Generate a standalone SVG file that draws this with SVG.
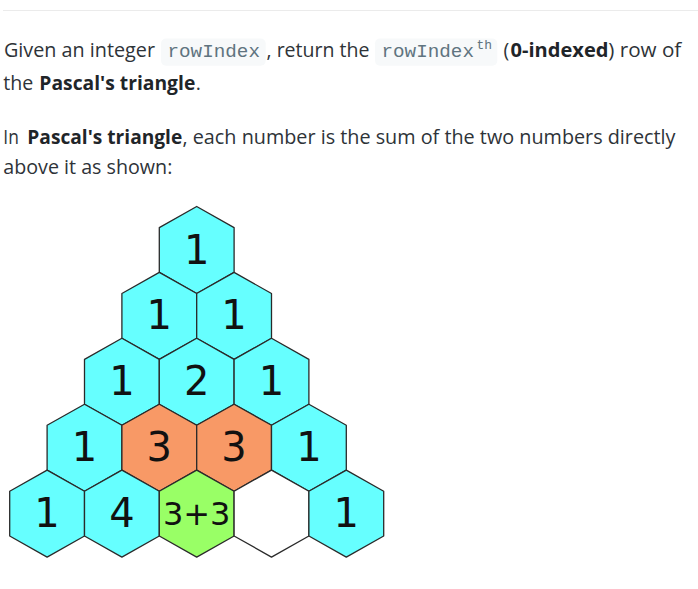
<svg xmlns="http://www.w3.org/2000/svg" xmlns:xlink="http://www.w3.org/1999/xlink" width="698" height="589" viewBox="0 0 698 589">
<style>
.t{font-family:"Open Sans","Noto Sans","Liberation Sans",sans-serif;font-size:19.5px;fill:#2e3338}
.b{font-weight:bold;fill:#1f2529}
.code{font-family:"Liberation Mono","DejaVu Sans Mono",monospace;font-size:17.5px;fill:#5f7480}
.sup{font-family:"Liberation Mono","DejaVu Sans Mono",monospace;font-size:12px;fill:#5f7480}
.cbox{fill:#f7f9fa}
.hex{stroke:#2a2a2a;stroke-width:1.3;stroke-linejoin:round}
.cyan{fill:#66ffff}
.orange{fill:#f89966}
.green{fill:#99ff66}
.white{fill:#ffffff}
.num{font-family:"DejaVu Sans","Liberation Sans",sans-serif;font-size:40px;fill:#111;text-anchor:middle}
.small{font-size:32px}
</style>
<defs>
<polygon id="hx" points="0,-43.5 37.4,-22.4 37.4,22.4 0,43.5 -37.4,22.4 -37.4,-22.4"/>
</defs>
<rect width="698" height="589" fill="#ffffff"/>
<line x1="3" y1="10.5" x2="698" y2="10.5" stroke="#ebebeb" stroke-width="1"/>

<g id="text">
<text class="t" x="4" y="57" textLength="151" lengthAdjust="spacingAndGlyphs">Given an integer</text>
<rect class="cbox" x="161" y="38.5" width="104.7" height="27.2" rx="5"/>
<text class="code" x="167.5" y="56.5" textLength="92.5" lengthAdjust="spacingAndGlyphs">rowIndex</text>
<text class="t" x="266.5" y="57" textLength="103" lengthAdjust="spacingAndGlyphs">, return the</text>
<rect class="cbox" x="375" y="38.5" width="122.3" height="27.2" rx="5"/>
<text class="code" x="381.5" y="56.5" textLength="92.5" lengthAdjust="spacingAndGlyphs">rowIndex</text>
<text class="sup" x="476.5" y="48.5" textLength="15.5" lengthAdjust="spacingAndGlyphs">th</text>
<text class="t" x="503.5" y="57">(</text>
<text class="t b" x="510.5" y="57" textLength="98" lengthAdjust="spacingAndGlyphs">0-indexed</text>
<text class="t" x="608.3" y="57" textLength="73" lengthAdjust="spacingAndGlyphs">) row of</text>

<text class="t" x="3.3" y="89.5" textLength="30" lengthAdjust="spacingAndGlyphs">the</text>
<text class="t b" x="39.3" y="89.5" textLength="156" lengthAdjust="spacingAndGlyphs">Pascal's triangle</text>
<text class="t" x="195.8" y="89.5">.</text>

<text class="t" x="3.3" y="144" textLength="15.5" lengthAdjust="spacingAndGlyphs">In</text>
<text class="t b" x="27.3" y="144" textLength="155" lengthAdjust="spacingAndGlyphs">Pascal's triangle</text>
<text class="t" x="182.5" y="144" textLength="493" lengthAdjust="spacingAndGlyphs">, each number is the sum of the two numbers directly</text>

<text class="t" x="3.3" y="173.5" textLength="169" lengthAdjust="spacingAndGlyphs">above it as shown:</text>
</g>

<g id="connectors"></g>

<g id="r0c0"><use xlink:href="#hx" href="#hx" class="hex cyan" x="196.7" y="250"/><text class="num" x="196.7" y="263.5">1</text></g>

<g id="r1c0"><use xlink:href="#hx" href="#hx" class="hex cyan" x="159.3" y="315.9"/><text class="num" x="159.3" y="329">1</text></g>
<g id="r1c1"><use xlink:href="#hx" href="#hx" class="hex cyan" x="234.1" y="315.9"/><text class="num" x="234.1" y="329">1</text></g>

<g id="r2c0"><use xlink:href="#hx" href="#hx" class="hex cyan" x="121.9" y="381.8"/><text class="num" x="121.9" y="395">1</text></g>
<g id="r2c1"><use xlink:href="#hx" href="#hx" class="hex cyan" x="196.7" y="381.8"/><text class="num" x="196.7" y="395">2</text></g>
<g id="r2c2"><use xlink:href="#hx" href="#hx" class="hex cyan" x="271.5" y="381.8"/><text class="num" x="271.5" y="395">1</text></g>

<g id="r3c0"><use xlink:href="#hx" href="#hx" class="hex cyan" x="84.5" y="447.7"/><text class="num" x="84.5" y="461">1</text></g>
<g id="r3c1"><use xlink:href="#hx" href="#hx" class="hex orange" x="159.3" y="447.7"/><text class="num" x="159.3" y="461">3</text></g>
<g id="r3c2"><use xlink:href="#hx" href="#hx" class="hex orange" x="234.1" y="447.7"/><text class="num" x="234.1" y="461">3</text></g>
<g id="r3c3"><use xlink:href="#hx" href="#hx" class="hex cyan" x="308.9" y="447.7"/><text class="num" x="308.9" y="461">1</text></g>

<g id="r4c0"><use xlink:href="#hx" href="#hx" class="hex cyan" x="47.1" y="513.6"/><text class="num" x="47.1" y="527">1</text></g>
<g id="r4c1"><use xlink:href="#hx" href="#hx" class="hex cyan" x="121.9" y="513.6"/><text class="num" x="121.9" y="527">4</text></g>
<g id="r4c2"><use xlink:href="#hx" href="#hx" class="hex green" x="196.7" y="513.6"/><text class="num small" x="196.7" y="524.5">3+3</text></g>
<g id="r4c3"><use xlink:href="#hx" href="#hx" class="hex white" x="271.5" y="513.6"/></g>
<g id="r4c4"><use xlink:href="#hx" href="#hx" class="hex cyan" x="346.3" y="513.6"/><text class="num" x="346.3" y="527">1</text></g>
</svg>
